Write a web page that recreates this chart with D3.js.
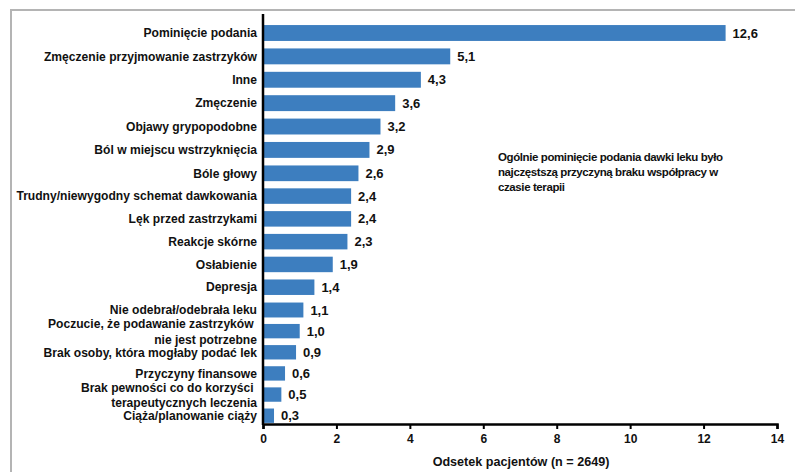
<!DOCTYPE html>
<html>
<head>
<meta charset="utf-8">
<script src="https://cdn.jsdelivr.net/npm/d3@7"></script>
<style>
  html, body { margin: 0; padding: 0; background: #fff; }
  svg { display: block; }
  text { font-family: "Liberation Sans", Arial, sans-serif; font-weight: bold; fill: #111; }
  tspan { white-space: pre; }
</style>
</head>
<body>
<svg id="chart" width="795" height="472"></svg>
<script>
// Reasons for non-adherence (each label may wrap onto two lines)
const categories = [
  ["Pominięcie podania"],
  ["Zmęczenie przyjmowanie zastrzyków"],
  ["Inne"],
  ["Zmęczenie"],
  ["Objawy grypopodobne"],
  ["Ból w miejscu wstrzyknięcia"],
  ["Bóle głowy"],
  ["Trudny/niewygodny schemat dawkowania"],
  ["Lęk przed zastrzykami"],
  ["Reakcje skórne"],
  ["Osłabienie"],
  ["Depresja"],
  ["Nie odebrał/odebrała leku"],
  ["Poczucie, że podawanie zastrzyków ", "nie jest potrzebne"],
  ["Brak osoby, która mogłaby podać lek"],
  ["Przyczyny finansowe"],
  ["Brak pewności co do korzyści ", "terapeutycznych leczenia"],
  ["Ciąża/planowanie ciąży"]
];
const values = [12.6, 5.1, 4.3, 3.6, 3.2, 2.9, 2.6, 2.4, 2.4, 2.3, 1.9, 1.4, 1.1, 1.0, 0.9, 0.6, 0.5, 0.3];
const xTicks = [0, 2, 4, 6, 8, 10, 12, 14];
const xTitle = "Odsetek pacjentów (n = 2649)";
const note = [
  "Ogólnie pominięcie podania dawki leku było",
  "najczęstszą przyczyną braku współpracy w",
  "czasie terapii"
];

const svg = d3.select("#chart");
const fmt = v => d3.format(".1f")(v).replace(".", ",");

// Frame around the figure
svg.append("path")
  .attr("d", "M11,472 L11,10 L795,10")
  .attr("fill", "none")
  .attr("stroke", "#b4b4b4")
  .attr("stroke-width", 2);

const x = d3.scaleLinear().domain([0, 14]).range([263, 777]);

// Category slots: ordinal index -> slot position, then slot -> pixel.
// The rows are slightly taller near the top of the plot than near the bottom.
const band = d3.scaleBand().domain(categories.map((c, i) => i)).range([0, categories.length]);
const slot = d3.scaleLinear().domain([0.5, 6.5, 12.5, 17.5]).range([33, 173.3, 310, 415.7]);
const yCenter = i => slot(band(i) + band.bandwidth() / 2);
const barH = i => (slot(band(i) + 1) - slot(band(i))) * 0.68;

// Bars
svg.append("g").selectAll("rect")
  .data(values)
  .join("rect")
  .attr("x", x(0))
  .attr("y", (d, i) => yCenter(i) - barH(i) / 2)
  .attr("width", d => x(d) - x(0))
  .attr("height", (d, i) => barH(i))
  .attr("fill", "#3d7ebf");

// Value labels
svg.append("g").selectAll("text")
  .data(values)
  .join("text")
  .attr("x", d => x(d) + 7)
  .attr("y", (d, i) => yCenter(i))
  .attr("dy", "0.35em")
  .attr("font-size", 13)
  .text(d => fmt(d));

// Category labels
const lab = svg.append("g").selectAll("text")
  .data(categories)
  .join("text")
  .attr("text-anchor", "end")
  .attr("font-size", 12.1)
  .attr("y", (d, i) => yCenter(i));
lab.selectAll("tspan")
  .data(d => d.map((t, k) => ({ t, k, n: d.length })))
  .join("tspan")
  .attr("x", 257)
  .attr("dy", d => d.k === 0 ? (d.n > 1 ? "-0.22em" : "0.35em") : "1.27em")
  .text(d => d.t);

// X axis
const xAxis = svg.append("g")
  .attr("transform", "translate(0,424)")
  .call(d3.axisBottom(x).tickValues(xTicks).tickSize(5).tickPadding(5).tickFormat(d3.format("d")));
xAxis.select(".domain").attr("stroke", "#000").attr("stroke-width", 2.5);
xAxis.selectAll(".tick line").attr("stroke", "#000").attr("stroke-width", 2);
xAxis.selectAll(".tick text")
  .attr("font-size", 12)
  .attr("font-family", "'Liberation Sans', Arial, sans-serif")
  .attr("font-weight", "bold")
  .attr("fill", "#111");

// Y axis line
svg.append("line")
  .attr("x1", x(0)).attr("x2", x(0))
  .attr("y1", 14).attr("y2", 425)
  .attr("stroke", "#000")
  .attr("stroke-width", 2.5);

// Axis title
svg.append("text")
  .attr("x", 521)
  .attr("y", 466)
  .attr("text-anchor", "middle")
  .attr("font-size", 12.6)
  .text(xTitle);

// Annotation
svg.append("g").selectAll("text")
  .data(note)
  .join("text")
  .attr("x", 498)
  .attr("y", (d, i) => 161 + i * 15)
  .attr("font-family", "'Open Sans', sans-serif")
  .attr("font-size", 11.5)
  .attr("font-weight", "bold")
  .attr("letter-spacing", -0.4)
  .text(d => d);
</script>
</body>
</html>
